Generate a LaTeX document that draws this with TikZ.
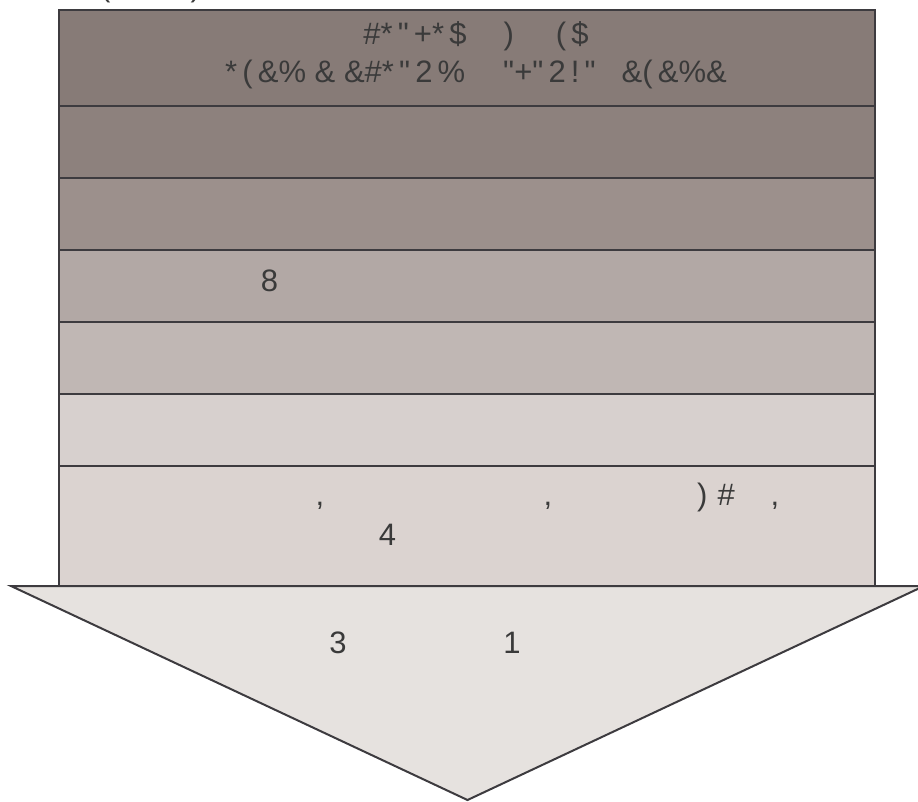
\documentclass[tikz,border=0pt]{standalone}
\usepackage{fontspec}
\setmainfont{Liberation Sans}
\usetikzlibrary{positioning}
\definecolor{bandA}{HTML}{877B77}
\definecolor{bandB}{HTML}{8D817D}
\definecolor{bandC}{HTML}{9C908C}
\definecolor{bandD}{HTML}{B2A8A5}
\definecolor{bandE}{HTML}{C0B7B4}
\definecolor{bandF}{HTML}{D7D0CE}
\definecolor{bandG}{HTML}{DBD3D0}
\definecolor{tipfill}{HTML}{E6E2DF}
\definecolor{edge}{HTML}{3D3B3F}
\definecolor{ink}{HTML}{3A3A3A}
\newcommand{\dq}{\textquotedbl}

\begin{document}
\begin{tikzpicture}[x=1pt, y=-1pt,
  band/.style={draw=edge, line width=2.5pt},
  txt/.style={text=ink, inner sep=0pt, font=\fontsize{31}{38}\selectfont}]

\useasboundingbox (0,0) rectangle (918,801);

% Stacked bands
\foreach \ytop/\ybot/\bandcol in {10/106/bandA, 106/178/bandB, 178/250/bandC,
    250/322/bandD, 322/394/bandE, 394/466/bandF, 466/586/bandG} {
  \fill[\bandcol] (59,\ytop) rectangle (875,\ybot);
}
\foreach \ysep in {106,178,250,322,394,466} {
  \draw[edge, line width=2.5pt] (59,\ysep) -- (875,\ysep);
}
\draw[band] (59,586) -- (59,10) -- (875,10) -- (875,586);

% Arrow head
\draw[draw=edge, fill=tipfill, line width=2pt, line join=miter]
  (11,586) -- (924,586) -- (467.5,800) -- cycle;

% Texts
\node[txt, anchor=base west] (cut) at (100,-3.5) {(\hspace{80pt})};
\node[txt, anchor=base] (headA) at (476,44)
  {\#*\,\dq\,+*\,\$\hspace{37pt})\hspace{42pt}(\,\$};
\node[txt, anchor=base] (headB) at (476,82)
  {*\,(\,\&\%\ \&\ \&\#*\,\dq\,2\,\%\hspace{38pt}\dq+\dq\,2\,!\,\dq\hspace{26pt}\&(\,\&\%\&};
\node[txt, anchor=base] (eight) at (269.5,291) {8};
\node[txt, anchor=base] (commaA) at (320,505) {,};
\node[txt, anchor=base] (commaB) at (548,505) {,};
\node[txt, anchor=base] (parhash) at (716,505) {)\hspace{10pt}\#};
\node[txt, anchor=base] (commaC) at (775,505) {,};
\node[txt, anchor=base] (four) at (387.5,545) {4};
\node[txt, anchor=base] (three) at (338,653) {3};
\node[txt, anchor=base] (one) at (512,653) {1};

\end{tikzpicture}
\end{document}
